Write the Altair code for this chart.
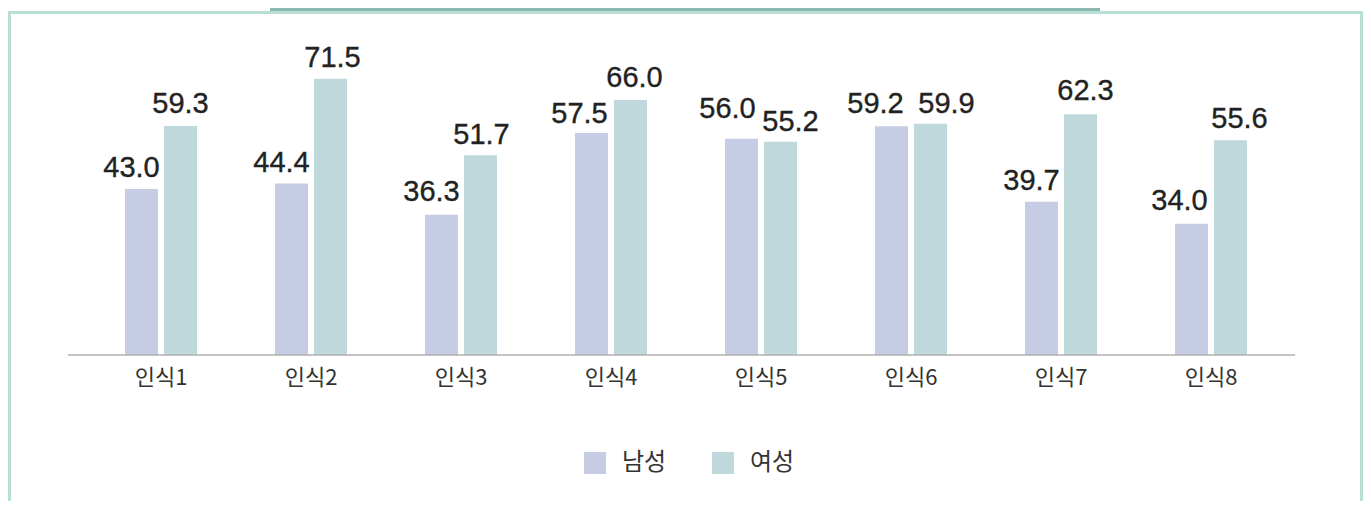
import altair as alt
import pandas as pd

# ---- data ----
items = ["인식1", "인식2", "인식3", "인식4", "인식5", "인식6", "인식7", "인식8"]
male = [43.0, 44.4, 36.3, 57.5, 56.0, 59.2, 39.7, 34.0]
female = [59.3, 71.5, 51.7, 66.0, 55.2, 59.9, 62.3, 55.6]
series = ["남성", "여성"]

rows = []
for it, m, f in zip(items, male, female):
    rows.append({"item": it, "sex": "남성", "value": m})
    rows.append({"item": it, "sex": "여성", "value": f})
df = pd.DataFrame(rows)

# ---- style ----
COL_M = "#c5cce3"
COL_F = "#bfd8dc"
FRAME = "#b9ded4"
TAB = "#8db8b0"
NUM_FONT = "Liberation Sans"
KR_FONT = "Noto Sans CJK KR"

# label nudges (dx, dy) per bar
nudge = {
    ("인식1", "남성"): (-10, -12), ("인식1", "여성"): (0, -13),
    ("인식2", "남성"): (-10, -12), ("인식2", "여성"): (2, -12),
    ("인식3", "남성"): (-10, -14), ("인식3", "여성"): (1, -11),
    ("인식4", "남성"): (-12, -10), ("인식4", "여성"): (4, -13),
    ("인식5", "남성"): (-14, -21), ("인식5", "여성"): (10, -11),
    ("인식6", "남성"): (-16, -13), ("인식6", "여성"): (16, -11),
    ("인식7", "남성"): (-10, -12), ("인식7", "여성"): (5, -14),
    ("인식8", "남성"): (-12, -14), ("인식8", "여성"): (9, -12),
}

W, H = 1200, 309

x_enc = alt.X("item:N", sort=items,
              scale=alt.Scale(paddingInner=0, paddingOuter=0),
              axis=alt.Axis(title=None, domain=False, ticks=False, labelAngle=0,
                            labelFont=KR_FONT, labelFontSize=22, labelColor="#333333",
                            labelPadding=12, grid=False))
xo_enc = alt.XOffset("sex:N", sort=series,
                     scale=alt.Scale(domain=series, paddingInner=0.154, paddingOuter=1.0))
y_enc = alt.Y("value:Q", scale=alt.Scale(domain=[0, 80]), axis=None)

base = alt.Chart(df)

bars = base.mark_bar().encode(
    x=x_enc,
    xOffset=xo_enc,
    y=y_enc,
    color=alt.Color("sex:N", sort=series,
                    scale=alt.Scale(domain=series, range=[COL_M, COL_F]),
                    legend=alt.Legend(title=None, orient="none", legendX=497, legendY=405,
                                      direction="horizontal", symbolType="square",
                                      symbolSize=484, symbolStrokeWidth=0,
                                      labelFont=KR_FONT, labelFontSize=24,
                                      labelColor="#333333", labelOffset=15,
                                      columnPadding=44, padding=0)),
)

labels = []
for (it, sx), (dx, dy) in nudge.items():
    labels.append(
        base.transform_filter(
            (alt.datum.item == it) & (alt.datum.sex == sx)
        ).mark_text(font=NUM_FONT, fontSize=29, color="#222222",
                    stroke="#222222", strokeWidth=0.35,
                    baseline="alphabetic", align="center", dx=dx, dy=dy).encode(
            x=x_enc, xOffset=xo_enc, y=y_enc,
            text=alt.Text("value:Q", format=".1f"),
        )
    )

one = alt.Data(values=[{"k": 0}])

baseline = alt.Chart(one).mark_rule(color="#b0b0b0", strokeWidth=1.5).encode(
    x=alt.value(-18), x2=alt.value(1209), y=alt.value(H)
)

frame_left = alt.Chart(one).mark_rect(color=FRAME).encode(
    x=alt.value(-78), x2=alt.value(-75), y=alt.value(-35), y2=alt.value(455))
frame_right = alt.Chart(one).mark_rect(color=FRAME).encode(
    x=alt.value(1274), x2=alt.value(1277), y=alt.value(-35), y2=alt.value(455))
frame_top = alt.Chart(one).mark_rect(color=FRAME).encode(
    x=alt.value(-78), x2=alt.value(1277), y=alt.value(-35), y2=alt.value(-32))
tab = alt.Chart(one).mark_rect(color=TAB).encode(
    x=alt.value(270 - 86), x2=alt.value(1100 - 86), y=alt.value(-38), y2=alt.value(-35))

chart = alt.layer(
    frame_left, frame_right, frame_top, tab, bars, baseline, *labels
).properties(
    width=W, height=H,
    autosize=alt.AutoSizeParams(type="none"),
    padding={"left": 78, "top": 38, "right": 77, "bottom": 146},
    background="white",
).configure_view(stroke=None)

chart.save("out.html", embed_options={"renderer": "svg", "actions": False})
